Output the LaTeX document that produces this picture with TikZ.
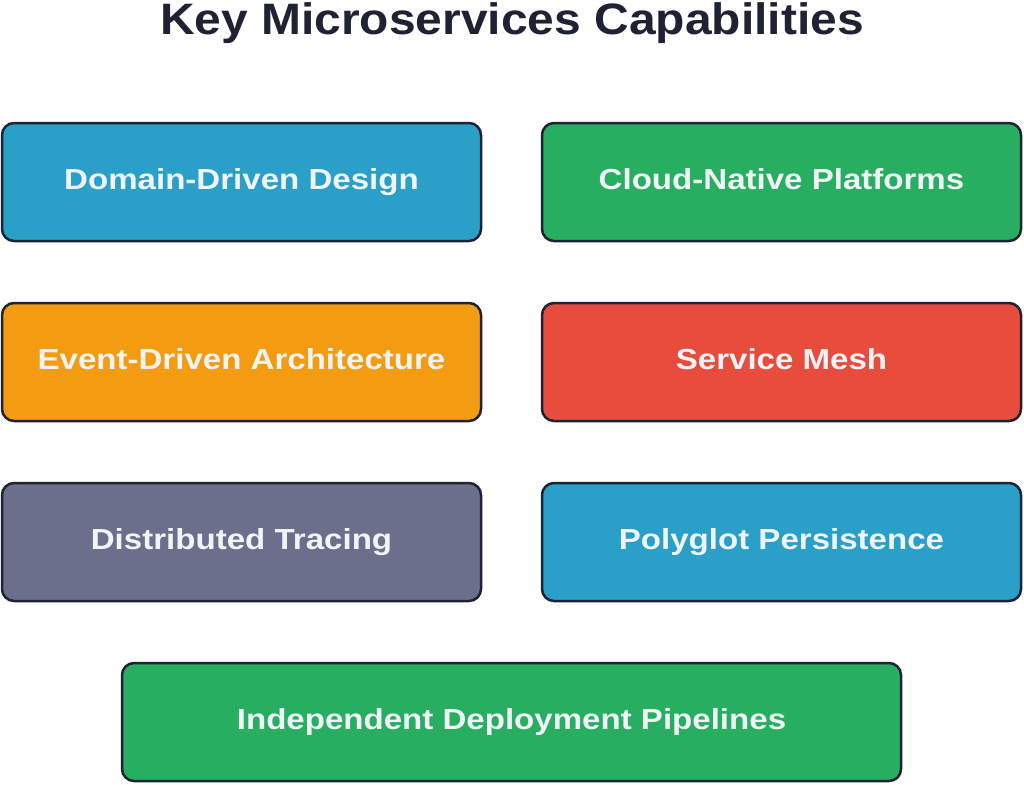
\documentclass[tikz,border=0pt]{standalone}
\usepackage{fontspec}
\setmainfont{Liberation Sans}
\usetikzlibrary{positioning}
\definecolor{capnavy}{RGB}{30,34,51}
\definecolor{capblue}{RGB}{42,159,199}
\definecolor{capgreen}{RGB}{39,174,96}
\definecolor{caporange}{RGB}{243,156,18}
\definecolor{capred}{RGB}{231,76,60}
\definecolor{capgray}{RGB}{108,111,140}
\definecolor{captext}{RGB}{240,244,246}

\begin{document}
\begin{tikzpicture}[x=1pt, y=1pt,
      capbox/.style={rounded corners=12pt, draw=capnavy, line width=2.5pt, minimum width=479pt, minimum height=118pt, inner sep=0pt, text=captext, text height=21pt, text depth=7pt, font=\fontsize{29}{34}\selectfont\bfseries\addfontfeature{FakeStretch=1.14}},
      widebox/.style={capbox, minimum width=779pt}
    ]
      \useasboundingbox (0,0) rectangle (1024,-784);

      % Title
      \node[text=capnavy, inner sep=0pt, text height=32pt, text depth=0pt, font=\fontsize{44}{52}\selectfont\bfseries\addfontfeature{FakeStretch=1.09}] (title) at (512,-19) {Key Microservices Capabilities};

      % Row 1
      \node[capbox, fill=capblue] (ddd) at (241.5,-182) {Domain-Driven Design};
      \node[capbox, fill=capgreen] (cloud) at (781.5,-182) {Cloud-Native Platforms};

      % Row 2
      \node[capbox, fill=caporange] (eda) at (241.5,-362) {Event-Driven Architecture};
      \node[capbox, fill=capred] (mesh) at (781.5,-362) {Service Mesh};

      % Row 3
      \node[capbox, fill=capgray] (tracing) at (241.5,-542) {Distributed Tracing};
      \node[capbox, fill=capblue] (persist) at (781.5,-542) {Polyglot Persistence};

      % Row 4
      \node[widebox, fill=capgreen] (deploy) at (511.5,-722) {Independent Deployment Pipelines};
    \end{tikzpicture}
\end{document}
